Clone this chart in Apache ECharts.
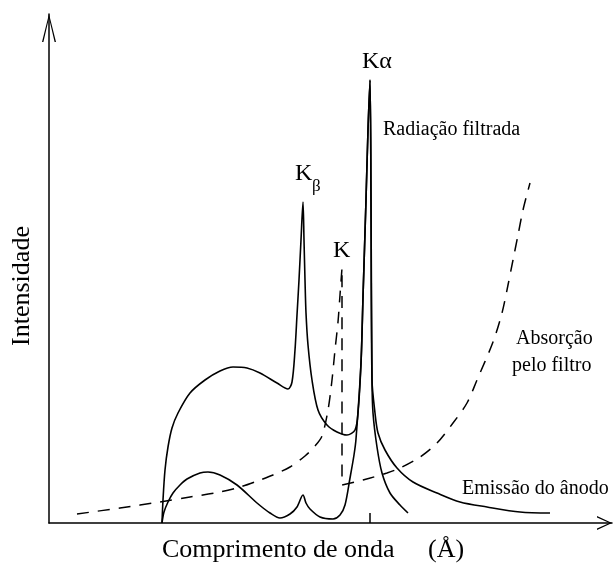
<!DOCTYPE html>
<html>
<head>
<meta charset="utf-8">
<script src="https://cdn.jsdelivr.net/npm/echarts@6/dist/echarts.min.js"></script>
<style>
html,body{margin:0;padding:0;background:#fff;}
#chart{width:613px;height:565px;}
</style>
</head>
<body>
<div id="chart"></div>
<script>
// Wavelength (arbitrary units) / intensity (arbitrary units)
var emissionData = [
  [113,0],[114,23],[116,53],[119,76],[123,95],[129,110],[141,130],[156,143],[171,152],[184,156],
  [198,155],[211,150],[228,140],[239,134],[243,141],[246,173],[248,208],[250,243],[252,283],[254,321],
  [255,283],[256,243],[257,210],[259,178],[263,143],[269,113],[278,98],[288,91],[298,88],[306,93],
  [309,110],[312,160],[314,226],[317,323],[319,393],[321,443],[322,323],[323,143],[326,110],[329,90],
  [336,73],[348,55],[364,41],[388,30],[411,21],[438,16],[471,11],[501,10]
];
var filteredData = [
  [113,0],[115,11],[119,21],[124,30],[131,38],[138,44],[151,50],[159,51],[171,48],[188,38],
  [208,20],[221,10],[231,5],[241,9],[248,16],[254,28],[257,20],[261,14],[271,6],[284,4],
  [291,8],[296,18],[301,45],[305,68],[307,84],[312,160],[314,226],[317,323],[319,393],[321,443],
  [322,323],[323,143],[324,110],[328,76],[333,50],[341,30],[351,18],[359,10]
];
var absorptionData = [
  [28,9],[71,15],[111,21],[141,26],[171,31],[191,36],[211,43],[224,48],[241,56],[256,67],
  [266,77],[273,87],[279,113],[283,143],[286,173],[289,201],[291,228],[293,255],
  [293,38],[314,43],[338,50],[351,55],[371,66],[388,80],[404,100],[418,120],[428,143],
  [444,181],[453,210],[459,238],[464,263],[469,288],[474,313],[481,340]
];
var kAlphaPosition = [321];
var xMax = 563, yMax = 509;

var serif = 'Liberation Serif, "Times New Roman", serif';
function txt(t, x, y, size, extra) {
  var o = {type:'text', x:x, y:y, silent:true, z:100,
    style:{text:t, font: size + 'px ' + serif, fill:'#000', align:'left', verticalAlign:'middle'}};
  if (extra) { for (var k in extra) { if (k === 'style') { for (var s in extra.style) o.style[s] = extra.style[s]; } else o[k] = extra[k]; } }
  return o;
}

var chart = echarts.init(document.getElementById('chart'), null, {renderer:'canvas'});
chart.setOption({
  animation:false,
  backgroundColor:'#fff',
  grid:{left:49, top:14, right:1, bottom:42, containLabel:false},
  xAxis:{
    type:'value', min:0, max:xMax,
    axisLine:{show:true, lineStyle:{color:'#000', width:1.5},
      symbol:['none','path://M7,0 L14,15 L12.5,15 L7,2.6 L1.5,15 L0,15 Z'],
      symbolSize:[14,15], symbolOffset:[0,-7.5]},
    axisTick:{show:true, inside:true, length:10, customValues:kAlphaPosition, lineStyle:{color:'#000', width:1.5}},
    axisLabel:{show:false},
    splitLine:{show:false}
  },
  yAxis:{
    type:'value', min:0, max:yMax,
    axisLine:{show:true, lineStyle:{color:'#000', width:1.5},
      symbol:['none','path://M7,0 L14,28 L12.6,28 L7,4 L1.4,28 L0,28 Z'],
      symbolSize:[14,28], symbolOffset:[0,-14]},
    axisTick:{show:false},
    axisLabel:{show:false},
    splitLine:{show:false}
  },
  series:[
    {name:'Emissão do ânodo', type:'line', data:emissionData, showSymbol:false, smooth:0.3,
      lineStyle:{color:'#000', width:1.6}},
    {name:'Radiação filtrada', type:'line', data:filteredData, showSymbol:false, smooth:0.3,
      lineStyle:{color:'#000', width:1.6}},
    {name:'Absorção pelo filtro', type:'line', data:absorptionData, showSymbol:false, smooth:0.3,
      lineStyle:{color:'#000', width:1.5, type:[12,9]}}
  ],
  graphic:[
    txt('Intensidade', 22, 286, 26, {rotation:Math.PI/2, style:{align:'center'}}),
    txt('Comprimento de onda', 162, 550, 26),
    txt('(Å)', 428, 550, 26),
    txt('Kα', 362, 62, 24),
    txt('K', 295, 174, 24),
    txt('β', 312, 187, 17),
    txt('K', 333, 251, 24),
    txt('Radiação filtrada', 383, 130, 20),
    txt('Absorção', 516, 339, 20),
    txt('pelo filtro', 512, 366, 20),
    txt('Emissão do ânodo', 462, 489, 20)
  ]
});
</script>
</body>
</html>
